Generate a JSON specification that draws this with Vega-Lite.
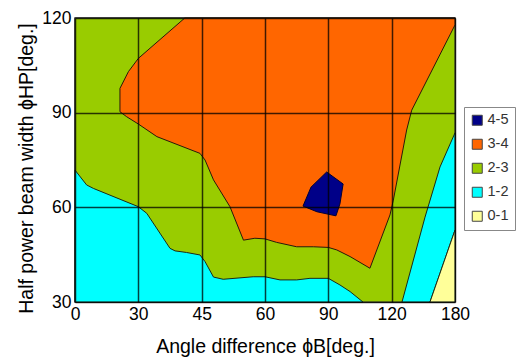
{
  "$schema": "https://vega.github.io/schema/vega-lite/v6.json",
  "width": 380,
  "height": 284,
  "autosize": {"type": "none"},
  "padding": {"left": 75, "top": 18, "right": 66, "bottom": 59},
  "background": "white",
  "config": {
    "font": "Liberation Sans",
    "view": {"stroke": "#333", "strokeWidth": 1.5}
  },
  "datasets": {
    "bg": [{"level": "2-3", "x0": 0, "x1": 180, "y0": 30, "y1": 120}],
    "poly": [
      {"part": "cl", "level": "1-2", "i": 0, "x": 0, "y": 71.8},
      {"part": "cl", "level": "1-2", "i": 1, "x": 5.5, "y": 67.1},
      {"part": "cl", "level": "1-2", "i": 2, "x": 8.7, "y": 66},
      {"part": "cl", "level": "1-2", "i": 3, "x": 30, "y": 60.2},
      {"part": "cl", "level": "1-2", "i": 4, "x": 32, "y": 58.1},
      {"part": "cl", "level": "1-2", "i": 5, "x": 37.5, "y": 47},
      {"part": "cl", "level": "1-2", "i": 6, "x": 38.7, "y": 46.2},
      {"part": "cl", "level": "1-2", "i": 7, "x": 41.4, "y": 45.7},
      {"part": "cl", "level": "1-2", "i": 8, "x": 44.6, "y": 44.9},
      {"part": "cl", "level": "1-2", "i": 9, "x": 45.8, "y": 42.8},
      {"part": "cl", "level": "1-2", "i": 10, "x": 47.8, "y": 37.9},
      {"part": "cl", "level": "1-2", "i": 11, "x": 50.1, "y": 37.2},
      {"part": "cl", "level": "1-2", "i": 12, "x": 57.2, "y": 38},
      {"part": "cl", "level": "1-2", "i": 13, "x": 60, "y": 38},
      {"part": "cl", "level": "1-2", "i": 14, "x": 67.1, "y": 37},
      {"part": "cl", "level": "1-2", "i": 15, "x": 75, "y": 37},
      {"part": "cl", "level": "1-2", "i": 16, "x": 81.3, "y": 37.5},
      {"part": "cl", "level": "1-2", "i": 17, "x": 90, "y": 37.5},
      {"part": "cl", "level": "1-2", "i": 18, "x": 95.5, "y": 35.4},
      {"part": "cl", "level": "1-2", "i": 19, "x": 100.3, "y": 33.3},
      {"part": "cl", "level": "1-2", "i": 20, "x": 106.4, "y": 30},
      {"part": "cl", "level": "1-2", "i": 21, "x": 0, "y": 30},
      {"part": "cl", "level": "1-2", "i": 22, "x": 0, "y": 71.8},
      {"part": "cr", "level": "1-2", "i": 0, "x": 180, "y": 83.6},
      {"part": "cr", "level": "1-2", "i": 1, "x": 180, "y": 52.8},
      {"part": "cr", "level": "1-2", "i": 2, "x": 156.3, "y": 30},
      {"part": "cr", "level": "1-2", "i": 3, "x": 129.8, "y": 30},
      {"part": "cr", "level": "1-2", "i": 4, "x": 151.6, "y": 56.9},
      {"part": "cr", "level": "1-2", "i": 5, "x": 165.8, "y": 72.8},
      {"part": "cr", "level": "1-2", "i": 6, "x": 180, "y": 83.6},
      {"part": "yl", "level": "0-1", "i": 0, "x": 180, "y": 52.8},
      {"part": "yl", "level": "0-1", "i": 1, "x": 180, "y": 30},
      {"part": "yl", "level": "0-1", "i": 2, "x": 156.3, "y": 30},
      {"part": "yl", "level": "0-1", "i": 3, "x": 180, "y": 52.8},
      {"part": "or", "level": "3-4", "i": 0, "x": 41, "y": 120},
      {"part": "or", "level": "3-4", "i": 1, "x": 180, "y": 120},
      {"part": "or", "level": "3-4", "i": 2, "x": 180, "y": 117.8},
      {"part": "or", "level": "3-4", "i": 3, "x": 139, "y": 90.8},
      {"part": "or", "level": "3-4", "i": 4, "x": 134.2, "y": 84.5},
      {"part": "or", "level": "3-4", "i": 5, "x": 121.6, "y": 62.3},
      {"part": "or", "level": "3-4", "i": 6, "x": 119.2, "y": 57.6},
      {"part": "or", "level": "3-4", "i": 7, "x": 109.7, "y": 40.7},
      {"part": "or", "level": "3-4", "i": 8, "x": 100.3, "y": 44.4},
      {"part": "or", "level": "3-4", "i": 9, "x": 94, "y": 46.5},
      {"part": "or", "level": "3-4", "i": 10, "x": 90, "y": 47.3},
      {"part": "or", "level": "3-4", "i": 11, "x": 82.9, "y": 47.5},
      {"part": "or", "level": "3-4", "i": 12, "x": 75, "y": 47.5},
      {"part": "or", "level": "3-4", "i": 13, "x": 65.5, "y": 48.9},
      {"part": "or", "level": "3-4", "i": 14, "x": 60, "y": 50},
      {"part": "or", "level": "3-4", "i": 15, "x": 57.6, "y": 50.2},
      {"part": "or", "level": "3-4", "i": 16, "x": 54.9, "y": 49.6},
      {"part": "or", "level": "3-4", "i": 17, "x": 51.7, "y": 60.2},
      {"part": "or", "level": "3-4", "i": 18, "x": 47.8, "y": 68.7},
      {"part": "or", "level": "3-4", "i": 19, "x": 45.8, "y": 75},
      {"part": "or", "level": "3-4", "i": 20, "x": 44.6, "y": 77.1},
      {"part": "or", "level": "3-4", "i": 21, "x": 34.4, "y": 82.4},
      {"part": "or", "level": "3-4", "i": 22, "x": 30, "y": 86.4},
      {"part": "or", "level": "3-4", "i": 23, "x": 24.5, "y": 88.7},
      {"part": "or", "level": "3-4", "i": 24, "x": 21.3, "y": 90.3},
      {"part": "or", "level": "3-4", "i": 25, "x": 21.3, "y": 97.7},
      {"part": "or", "level": "3-4", "i": 26, "x": 25.3, "y": 103},
      {"part": "or", "level": "3-4", "i": 27, "x": 30, "y": 107.2},
      {"part": "or", "level": "3-4", "i": 28, "x": 41, "y": 120},
      {"part": "nv", "level": "4-5", "i": 0, "x": 89.2, "y": 71.2},
      {"part": "nv", "level": "4-5", "i": 1, "x": 97, "y": 67.4},
      {"part": "nv", "level": "4-5", "i": 2, "x": 95.5, "y": 61.1},
      {"part": "nv", "level": "4-5", "i": 3, "x": 93.6, "y": 57.3},
      {"part": "nv", "level": "4-5", "i": 4, "x": 84.6, "y": 58.6},
      {"part": "nv", "level": "4-5", "i": 5, "x": 78, "y": 60.4},
      {"part": "nv", "level": "4-5", "i": 6, "x": 81.8, "y": 66.4},
      {"part": "nv", "level": "4-5", "i": 7, "x": 89.2, "y": 71.2}
    ]
  },
  "encoding": {
    "x": {
      "field": "x", "type": "quantitative",
      "scale": {"type": "linear", "domain": [0, 30, 45, 60, 90, 120, 180], "range": [0, 63.333, 126.667, 190, 253.333, 316.667, 380], "nice": false, "zero": false},
      "axis": {
        "values": [0, 30, 45, 60, 90, 120, 180],
        "title": "Angle difference  ϕB[deg.]",
        "ticks": false, "tickSize": 0, "domain": false,
        "labelFlush": false, "labelFontSize": 17.5, "labelColor": "#000", "labelPadding": 3,
        "titleFontSize": 19.5, "titleFontWeight": "normal", "titleColor": "#000", "titlePadding": 15,
        "grid": true, "gridColor": "#000", "gridOpacity": 0.75, "gridWidth": 1.5,
        "zindex": 1
      }
    },
    "y": {
      "field": "y", "type": "quantitative",
      "scale": {"domain": [30, 120], "nice": false, "zero": false},
      "axis": {
        "values": [30, 60, 90, 120],
        "title": "Half power beam width  ϕHP[deg.]",
        "ticks": false, "tickSize": 0, "domain": false,
        "labelFlush": false, "labelFontSize": 17.5, "labelColor": "#000", "labelPadding": 4,
        "titleFontSize": 19.5, "titleFontWeight": "normal", "titleColor": "#000", "titlePadding": 5,
        "titleY": 150,
        "grid": true, "gridColor": "#000", "gridOpacity": 0.75, "gridWidth": 1.5,
        "zindex": 1
      }
    },
    "fill": {
      "field": "level", "type": "nominal",
      "scale": {"domain": ["4-5", "3-4", "2-3", "1-2", "0-1"], "range": ["#000088", "#ff6600", "#99cc00", "#00ffff", "#ffff99"]},
      "legend": {
        "title": null, "orient": "none", "legendX": 389, "legendY": 89,
        "symbolType": "square", "symbolSize": 100, "symbolStrokeColor": "#444", "symbolStrokeWidth": 1,
        "labelFontSize": 14.5, "labelColor": "#333", "rowPadding": 8, "padding": 6,
        "strokeColor": "#888", "fillColor": "white", "labelOffset": 3
      }
    }
  },
  "layer": [
    {
      "data": {"name": "bg"},
      "mark": {"type": "rect", "stroke": "#333", "strokeWidth": 1},
      "encoding": {
        "x": {"field": "x0", "type": "quantitative"},
        "x2": {"field": "x1"},
        "y": {"field": "y0", "type": "quantitative"},
        "y2": {"field": "y1"}
      }
    },
    {
      "data": {"name": "poly"},
      "transform": [{"filter": "datum.part == 'cl'"}],
      "mark": {"type": "line", "stroke": "#1a2a1a", "strokeWidth": 1},
      "encoding": {"order": {"field": "i", "type": "quantitative"}}
    },
    {
      "data": {"name": "poly"},
      "transform": [{"filter": "datum.part == 'cr'"}],
      "mark": {"type": "line", "stroke": "#1a2a1a", "strokeWidth": 1},
      "encoding": {"order": {"field": "i", "type": "quantitative"}}
    },
    {
      "data": {"name": "poly"},
      "transform": [{"filter": "datum.part == 'yl'"}],
      "mark": {"type": "line", "stroke": "#1a2a1a", "strokeWidth": 1},
      "encoding": {"order": {"field": "i", "type": "quantitative"}}
    },
    {
      "data": {"name": "poly"},
      "transform": [{"filter": "datum.part == 'or'"}],
      "mark": {"type": "line", "stroke": "#2a1a0a", "strokeWidth": 1},
      "encoding": {"order": {"field": "i", "type": "quantitative"}}
    },
    {
      "data": {"name": "poly"},
      "transform": [{"filter": "datum.part == 'nv'"}],
      "mark": {"type": "line", "stroke": "#000033", "strokeWidth": 1},
      "encoding": {"order": {"field": "i", "type": "quantitative"}}
    }
  ]
}
